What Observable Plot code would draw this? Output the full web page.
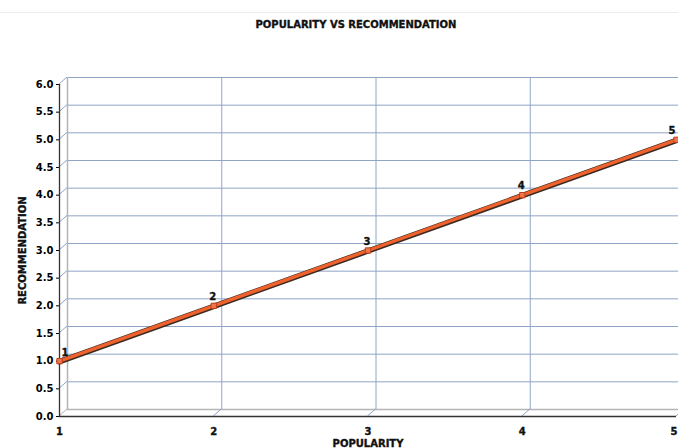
<!DOCTYPE html>
<html>
<head>
<meta charset="utf-8">
<script src="https://cdn.jsdelivr.net/npm/d3@7"></script>
<script src="https://cdn.jsdelivr.net/npm/@observablehq/plot@0.6"></script>
<style>
  html, body { margin: 0; padding: 0; background: #fff; overflow: hidden; }
  #wrap { position: relative; width: 678px; height: 448px; }
  #topline { position: absolute; left: 0; top: 12px; width: 678px; height: 0; border-top: 1px solid #ececec; }
  svg { font-family: "DejaVu Sans", sans-serif; }
</style>
</head>
<body>
<div id="wrap"><div id="topline"></div></div>
<script>
// ---- data ----
const popularity = [1, 2, 3, 4, 5];
const recommendation = [1, 2, 3, 4, 5];
const pointLabels = ["1", "2", "3", "4", "5"];
const xTicks = [1, 2, 3, 4, 5];
const yTicks = [0, 0.5, 1, 1.5, 2, 2.5, 3, 3.5, 4, 4.5, 5, 5.5, 6];
const title = "POPULARITY VS RECOMMENDATION";
const xTitle = "POPULARITY";
const yTitle = "RECOMMENDATION";

const points = popularity.map((p, i) => ({x: p, y: recommendation[i], label: pointLabels[i]}));
const n = points.length;

// 3D depth offset of the back wall (pixels)
const DX = 8, DY = -7;
const gridColor = "#8ea5c6";
const wallColor = "#b4b4b4";
const ink = "#111";
const heavy = {fill: ink, stroke: ink, strokeWidth: 0.35, fontWeight: "bold", fontSize: 10};

// side-wall and floor connectors drawn through the plot's scales
function depthConnectors(index, scales) {
  const {x, y} = scales;
  const g = d3.create("svg:g").attr("fill", "none");
  for (const t of yTicks) {
    g.append("line")
      .attr("x1", x(xTicks[0])).attr("y1", y(t))
      .attr("x2", x(xTicks[0]) + DX).attr("y2", y(t) + DY)
      .attr("stroke", t === yTicks[0] ? wallColor : gridColor);
  }
  for (const t of xTicks.slice(1)) {
    g.append("line")
      .attr("x1", x(t)).attr("y1", y(yTicks[0]))
      .attr("x2", x(t) + DX).attr("y2", y(yTicks[0]) + DY)
      .attr("stroke", gridColor);
  }
  return g.node();
}

const plot = Plot.plot({
  width: 678,
  height: 448,
  marginLeft: 59,
  marginRight: 2,
  marginTop: 84,
  marginBottom: 32,
  style: {fontFamily: "DejaVu Sans", fontSize: "10px", fontWeight: "bold", background: "transparent", overflow: "visible"},
  x: {domain: [1, 5], axis: null},
  y: {domain: [0, 6], ticks: yTicks, tickSize: 3, tickPadding: 3, tickFormat: d3.format(".1f"), label: null},
  marks: [
    // back wall horizontal grid lines
    Plot.ruleY(yTicks.slice(1), {x1: 1, x2: 5, dx: DX, dy: DY, stroke: gridColor, strokeWidth: 1}),
    // back wall vertical grid lines
    Plot.ruleX(xTicks.slice(1), {y1: 0, y2: 6, dx: DX, dy: DY, stroke: gridColor, strokeWidth: 1}),
    // back wall left edge and floor back edge
    Plot.ruleX([xTicks[0]], {y1: 0, y2: 6, dx: DX, dy: DY, stroke: wallColor, strokeWidth: 1.5}),
    Plot.ruleY([yTicks[0]], {x1: 1, x2: 5, dx: DX, dy: DY, stroke: wallColor, strokeWidth: 1.5}),
    depthConnectors,
    // front axes
    Plot.ruleX([xTicks[0]], {y1: 0, y2: 6, stroke: "#333", strokeWidth: 1.3}),
    Plot.ruleY([yTicks[0]], {x1: 1, x2: 5, stroke: "#333", strokeWidth: 1.3}),
    // x tick labels
    Plot.text(xTicks.slice(0, -1), {x: d => d, y: 0, dy: 15, text: d => String(d), ...heavy}),
    Plot.text(xTicks.slice(-1), {x: d => d, y: 0, dy: 15, dx: 1, textAnchor: "end", text: d => String(d), ...heavy}),
    // data line (dark edge + orange band)
    Plot.line(points, {x: "x", y: "y", stroke: "#3b2a22", strokeWidth: 5.5, dy: 0.5}),
    Plot.line(points, {x: "x", y: "y", stroke: "#f0622d", strokeWidth: 3.4}),
    Plot.dot(points, {x: "x", y: "y", symbol: "square", r: 3, fill: "#f3754a", stroke: "#b8401c", strokeWidth: 1}),
    // point labels
    Plot.text(points.slice(0, 1), {x: "x", y: "y", text: "label", dy: -8, dx: 2, textAnchor: "start", ...heavy}),
    Plot.text(points.slice(1, n - 1), {x: "x", y: "y", text: "label", dy: -9, dx: -1, ...heavy}),
    Plot.text(points.slice(n - 1), {x: "x", y: "y", text: "label", dy: -9, dx: -1, textAnchor: "end", ...heavy}),
    // titles
    Plot.text([title], {frameAnchor: "top", dy: -64, dx: -12, ...heavy}),
    Plot.text([xTitle], {frameAnchor: "bottom", dy: 30, ...heavy}),
    Plot.text([yTitle], {frameAnchor: "left", textAnchor: "middle", dx: -37, rotate: -90, ...heavy})
  ]
});
document.getElementById("wrap").appendChild(plot);
plot.style.position = "absolute";
plot.style.left = "0";
plot.style.top = "0";
</script>
</body>
</html>
